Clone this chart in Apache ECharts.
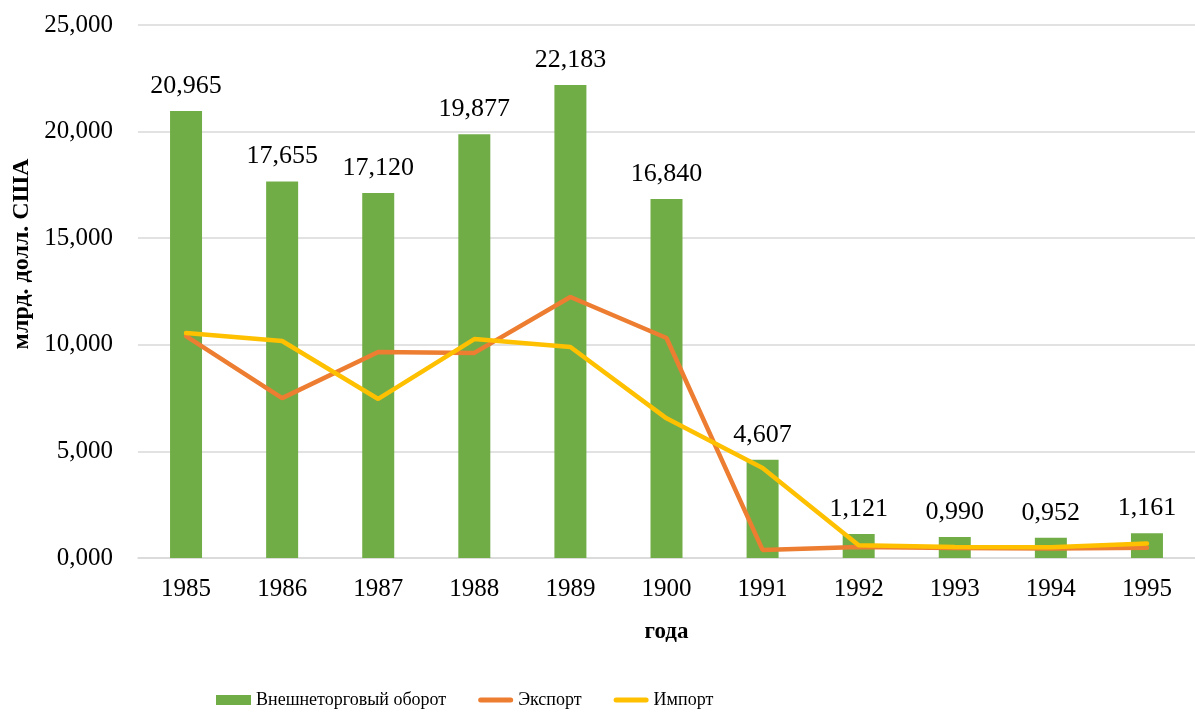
<!DOCTYPE html>
<html>
<head>
<meta charset="utf-8">
<script src="https://cdn.jsdelivr.net/npm/echarts@6/dist/echarts.min.js"></script>
<style>
  html, body { margin: 0; padding: 0; background: #fff; }
  #chart { width: 1195px; height: 713px; }
</style>
</head>
<body>
<div id="chart"></div>
<script>
// годы (1900 - как в исходнике)
var years = ["1985", "1986", "1987", "1988", "1989", "1900", "1991", "1992", "1993", "1994", "1995"];
// внешнеторговый оборот, млрд. долл. США
var turnover = [20.965, 17.655, 17.120, 19.877, 22.183, 16.840, 4.607, 1.121, 0.990, 0.952, 1.161];
// экспорт и импорт (оценка по картинке)
var exportVals = [10.41, 7.50, 9.66, 9.62, 12.24, 10.32, 0.38, 0.52, 0.47, 0.45, 0.48];
var importVals = [10.55, 10.18, 7.46, 10.27, 9.90, 6.55, 4.22, 0.60, 0.52, 0.50, 0.68];

var FONT = "'Liberation Serif', 'Times New Roman', serif";
var LINE_ICON = "path://M2.5,0 L32.5,0 A2.5,2.5 0 0 1 32.5,5 L2.5,5 A2.5,2.5 0 0 1 2.5,0 Z";

// 20.965 -> "20,965"
function fmt(v) {
    return v.toFixed(3).replace(".", ",");
}

var chart = echarts.init(document.getElementById("chart"));
chart.setOption({
    animation: false,
    textStyle: {fontFamily: FONT},
    grid: {left: 138, width: 1059, top: 25, bottom: 155},
    graphic: [{
        type: "text",
        x: 22,
        y: 254,
        rotation: Math.PI / 2,
        style: {
            text: "млрд. долл. США",
            fontFamily: FONT,
            fontSize: 24,
            fontWeight: "bold",
            fill: "#000",
            align: "center",
            verticalAlign: "middle"
        }
    }],
    legend: {
        left: 211,
        top: 686,
        itemWidth: 35,
        itemHeight: 10,
        itemGap: 32,
        textStyle: {fontFamily: FONT, fontSize: 18, color: "#000"},
        data: [
            {name: "Внешнеторговый оборот", icon: "rect"},
            {name: "Экспорт", icon: LINE_ICON},
            {name: "Импорт", icon: LINE_ICON}
        ]
    },
    xAxis: {
        type: "category",
        data: years,
        name: "года",
        nameLocation: "middle",
        nameGap: 63,
        nameTextStyle: {fontFamily: FONT, fontSize: 23, fontWeight: "bold", color: "#000"},
        axisLine: {lineStyle: {color: "#d9d9d9", width: 1.5}},
        axisTick: {show: false},
        axisLabel: {fontFamily: FONT, fontSize: 25, color: "#000", margin: 19}
    },
    yAxis: {
        type: "value",
        min: 0,
        max: 25,
        interval: 5,
        axisLabel: {
            fontFamily: FONT, fontSize: 25, color: "#000", margin: 25,
            formatter: function (v) { return fmt(v); }
        },
        splitLine: {lineStyle: {color: "#d9d9d9", width: 1.5}}
    },
    series: [
        {
            name: "Внешнеторговый оборот",
            type: "bar",
            data: turnover,
            barWidth: 32,
            itemStyle: {color: "#70ad47"},
            label: {
                show: true,
                position: "top",
                distance: 12,
                fontFamily: FONT,
                fontSize: 26,
                color: "#000",
                formatter: function (p) { return fmt(p.value); }
            }
        },
        {
            name: "Экспорт",
            type: "line",
            data: exportVals,
            symbol: "none",
            lineStyle: {color: "#ed7d31", width: 4.5, cap: "round"},
            itemStyle: {color: "#ed7d31"}
        },
        {
            name: "Импорт",
            type: "line",
            data: importVals,
            symbol: "none",
            lineStyle: {color: "#ffc000", width: 4.5, cap: "round"},
            itemStyle: {color: "#ffc000"}
        }
    ]
});
</script>
</body>
</html>
